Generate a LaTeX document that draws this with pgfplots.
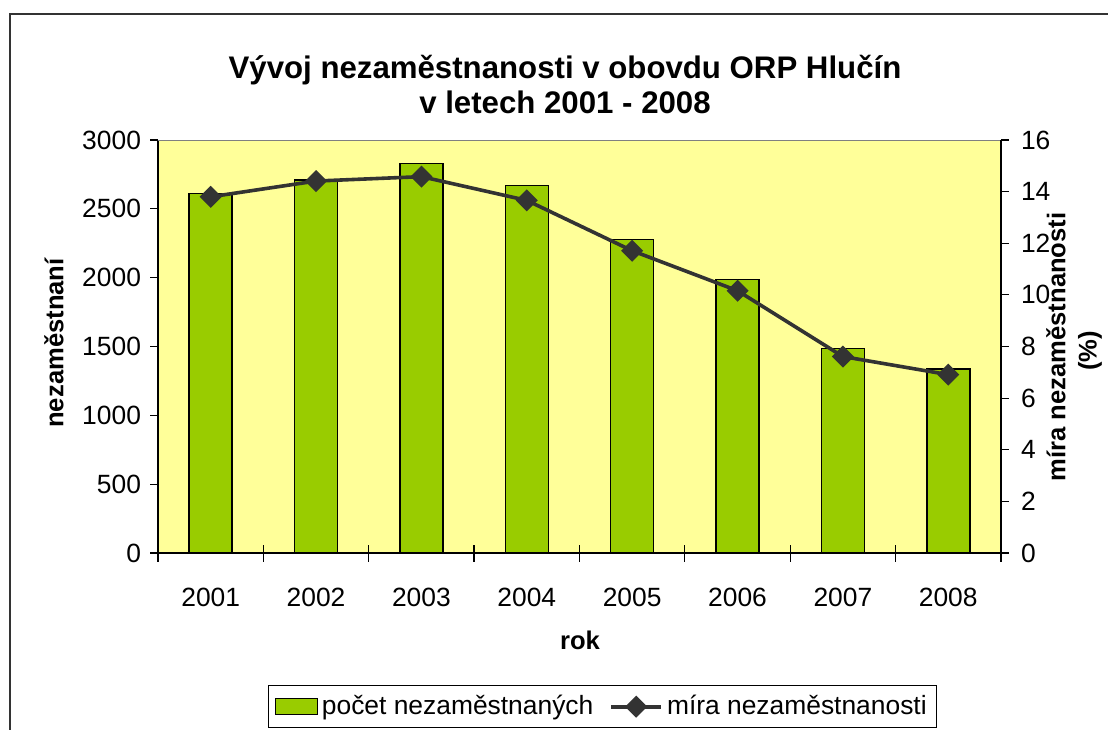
\documentclass[border=0pt]{standalone}
\usepackage{fontspec}
\setmainfont{Liberation Sans}
\usepackage{pgfplots}
\pgfplotsset{compat=1.18}
\definecolor{barGreen}{HTML}{99CC00}
\definecolor{plotBg}{HTML}{FFFF99}
\definecolor{lineGrey}{HTML}{333333}
\newcommand{\tickfont}{\fontsize{13.2}{15}\selectfont}
\newcommand{\labfont}{\fontsize{12.8}{15}\selectfont\bfseries}

% yearly counts (left axis) and rate in % (right axis)
\pgfplotstableread{
year count rate
2001 2610 13.80
2002 2710 14.41
2003 2830 14.58
2004 2668 13.66
2005 2278 11.71
2006 1988 10.16
2007 1485 7.61
2008 1337 6.91
}\data

\begin{document}
\begin{tikzpicture}
\clip (0,0) rectangle (554pt,364.5pt);
\fill[white] (0,0) rectangle (554pt,364.5pt);
\draw[black!80, line width=0.8pt] (5pt,357.5pt) rectangle (580pt,-20pt);

\pgfplotsset{every axis/.append style={
    scale only axis, width=421.5pt, height=206.5pt,
    xmin=2000.5, xmax=2008.5,
    at={(79pt,88pt)}, anchor=south west,
    tick label style={font=\tickfont},
    /pgf/number format/assume math mode=true,
    /pgf/number format/1000 sep={},
}}

\begin{axis}[
    axis background/.style={fill=plotBg},
    ymin=0, ymax=3000, ytick={0,500,...,3000},
    axis x line*=bottom, axis y line*=left,
    axis line style={-, black, line width=0.6pt},
    tick align=outside,
    xtick={2001,...,2008},
    major x tick style={draw=none},
    minor xtick={2000.5,...,2008.5},
    minor tick length=8.5pt,
    minor x tick style={yshift=4.25pt, black, line width=0.6pt},
    major tick length=4pt,
    y tick style={black, line width=0.6pt},
    xticklabel style={yshift=-10pt},
    yticklabel style={xshift=-1pt},
    ybar, bar width=21.5pt,
]
\draw[black!50, line width=0.6pt] (rel axis cs:0,1) -- (rel axis cs:1,1);
\addplot[fill=barGreen, draw=black, line width=0.7pt] table[x=year, y=count] {\data};
\end{axis}

\begin{axis}[
    axis y line*=right, axis x line=none,
    axis line style={-, black, line width=0.6pt},
    ymin=0, ymax=16, ytick={0,2,...,16},
    tick align=outside, major tick length=4pt,
    y tick style={black, line width=0.6pt},
    yticklabel style={xshift=2.5pt},
    legend style={at={(0.1305,-0.3196)}, anchor=north west,
        font=\tickfont, draw=black, line width=0.5pt,
        legend columns=2, inner sep=3pt,
        /tikz/every even column/.append style={column sep=6pt}},
    legend cell align=left,
    legend image code/.code={
        \draw[mark repeat=2, mark phase=2, #1]
            plot coordinates {(0pt,0pt) (12.5pt,0pt) (25pt,0pt)};},
]
\addlegendimage{legend image code/.code={
    \draw[fill=barGreen, draw=black, line width=0.7pt] (-2pt,-4pt) rectangle (19pt,4pt);}}
\addlegendentry{počet nezaměstnaných}
\addplot[lineGrey, line width=1.8pt, mark=square*,
    mark options={rotate=45, mark size=3pt, fill=lineGrey}]
    table[x=year, y=rate] {\data};
\addlegendentry{míra nezaměstnanosti}
\end{axis}

\node[font=\fontsize{15.6}{17.5}\selectfont\bfseries, align=center]
    at (282.5pt,322pt) {Vývoj nezaměstnanosti v obovdu ORP Hlučín\\v letech 2001 - 2008};
\node[font=\labfont] at (290pt,44.5pt) {rok};
\node[font=\labfont, rotate=90] at (27pt,193pt) {nezaměstnaní};
\node[font=\labfont, rotate=90] at (528pt,191pt) {míra nezaměstnanosti};
\node[font=\labfont, rotate=90] at (545pt,189pt) {(\%)};
\end{tikzpicture}
\end{document}
